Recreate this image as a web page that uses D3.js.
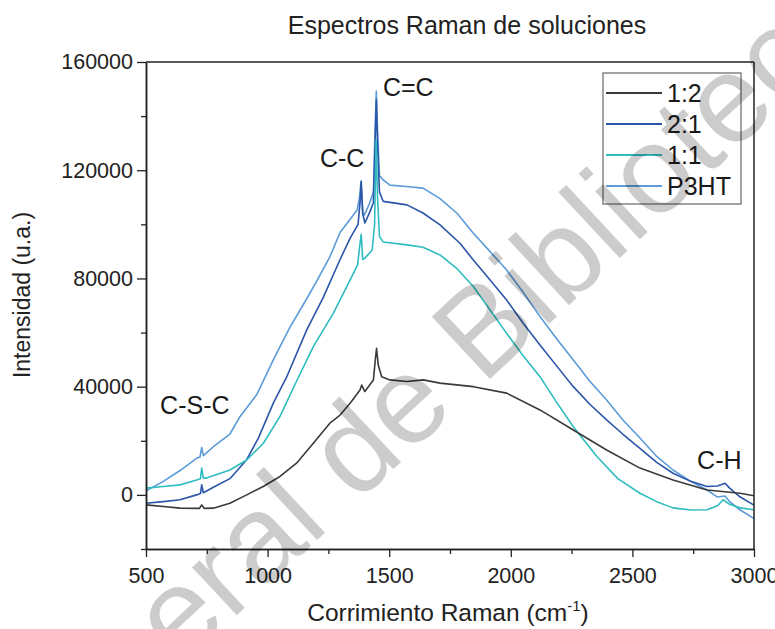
<!DOCTYPE html>
<html>
<head>
<meta charset="utf-8">
<script src="https://cdn.jsdelivr.net/npm/d3@7"></script>
<style>
  html, body { margin: 0; padding: 0; background: #fff; }
  svg { display: block; font-family: "Liberation Sans", Arial, sans-serif; }
</style>
</head>
<body>
<svg id="chart" width="775" height="629"></svg>
<script>
// ---------------- data ----------------
const title = "Espectros Raman de soluciones";
const xLabel = "Corrimiento Raman (cm";
const yLabel = "Intensidad (u.a.)";
const seriesNames = ["1:2", "2:1", "1:1", "P3HT"];
const seriesColors = ["#3a3a3a", "#2a55a8", "#2fbcc0", "#5b9bd8"];
const xTickValues = [500, 1000, 1500, 2000, 2500, 3000];
const xMinorTicks = [750, 1250, 1750, 2250, 2750];
const yTickValues = [0, 40000, 80000, 120000, 160000];
const yMinorTicks = [-20000, 20000, 60000, 100000, 140000];

const shift12 = [500,571,640,720,729,740,777,845,914,982,1051,1119,1188,1256,1298,1340,1380,1387,1400,1435,1443,1448,1455,1469,1503,1572,1640,1709,1846,1983,2120,2257,2394,2531,2667,2807,2942,3000];
const int12   = [-3700,-4300,-4900,-5000,-3700,-5000,-4900,-3100,0,3100,6800,11700,19100,26500,29500,34000,38800,40600,38200,42500,50000,54200,48000,43700,42500,41900,42500,41300,40000,37600,31400,24000,16600,9900,5500,1800,600,-300];

const shift21 = [500,571,640,708,724,729,736,777,845,914,962,1024,1078,1161,1229,1298,1340,1372,1380,1385,1391,1400,1420,1435,1442,1447,1452,1460,1475,1573,1639,1709,1791,1846,1914,1983,2050,2120,2190,2257,2325,2394,2460,2531,2600,2667,2740,2807,2850,2881,2900,2942,3000];
const int21   = [-3100,-2500,-1800,0,500,3700,800,2800,6000,13000,21000,34000,43500,61000,73000,87000,95000,100000,108000,116000,104000,100500,104500,108000,130000,146000,130000,112000,108500,107200,104200,99800,93000,86800,79500,72000,63500,55400,47500,40000,33500,27700,22500,17200,12000,8000,5000,3100,3300,4300,2500,-700,-3800];

const shift11 = [500,571,640,708,724,729,736,749,845,914,982,1051,1119,1188,1270,1339,1370,1380,1385,1391,1400,1430,1440,1446,1452,1460,1475,1573,1639,1709,1780,1846,1914,1983,2050,2120,2190,2257,2354,2440,2531,2600,2667,2740,2807,2850,2873,2900,2942,3000];
const int11   = [2500,3100,3700,5500,6000,9900,6200,6200,9200,12900,19000,29000,42000,54800,67100,79400,85000,93000,96300,87000,87500,90500,100000,131200,110000,95500,93500,92400,91500,88700,83500,77000,68400,59700,51500,43700,34000,25200,14200,6000,600,-2500,-4800,-5600,-5500,-4000,-1800,-3500,-4800,-5500];

const shiftP3 = [500,571,640,708,722,729,736,777,845,887,955,1024,1092,1161,1202,1256,1298,1340,1368,1378,1384,1392,1398,1420,1435,1442,1447,1452,1460,1475,1503,1570,1639,1709,1780,1846,1914,1983,2050,2120,2190,2257,2325,2394,2460,2531,2600,2667,2740,2807,2850,2881,2900,2942,3000];
const intP3   = [1500,5000,9000,13500,14000,17500,14500,17800,22500,29000,37000,50000,62000,72500,79000,88000,97000,102000,105300,110000,115600,104000,103500,107900,112000,135000,149300,135000,118000,116400,114500,114000,113400,109500,104000,96700,90000,83100,75000,65900,57500,49900,42000,35100,27800,21000,14200,9200,5000,1800,-800,-400,-2500,-5500,-8800];

const annotLabels = ["C=C", "C-C", "C-S-C", "C-H"];
const annotX = [1474, 1215, 558, 2766];
const annotY = [147400, 121200, 29900, 9600];

const watermark1 = "Dirección Gen";
const watermark2 = "eral de Bibliotecas";

// ---------------- layout ----------------
const W = 775, H = 629;
const m = { left: 146, right: 21, top: 62, bottom: 80 };
const svg = d3.select("#chart");

const x = d3.scaleLinear().domain([500, 3000]).range([m.left, W - m.right]);
const y = d3.scaleLinear().domain([-20000, 160000]).range([H - m.bottom, m.top]);

const series = [
  { name: seriesNames[0], color: seriesColors[0], xs: shift12, ys: int12 },
  { name: seriesNames[1], color: seriesColors[1], xs: shift21, ys: int21 },
  { name: seriesNames[2], color: seriesColors[2], xs: shift11, ys: int11 },
  { name: seriesNames[3], color: seriesColors[3], xs: shiftP3, ys: intP3 }
];

const g = svg.append("g");

// lines (draw order: P3HT, 2:1, 1:1, 1:2)
const line = d3.line().x(d => x(d[0])).y(d => y(d[1]));
[3, 1, 2, 0].forEach(i => {
  const s = series[i];
  g.append("path")
    .datum(s.xs.map((v, k) => [v, s.ys[k]]))
    .attr("fill", "none")
    .attr("stroke", s.color)
    .attr("stroke-width", 1.6)
    .attr("stroke-linejoin", "round")
    .attr("d", line);
});

// frame
const frameColor = "#222";
svg.append("line").attr("x1", x(500)).attr("x2", x(3000)).attr("y1", y(160000)).attr("y2", y(160000))
  .attr("stroke", frameColor).attr("stroke-width", 1.5);
svg.append("line").attr("x1", x(3000)).attr("x2", x(3000)).attr("y1", y(160000)).attr("y2", y(-20000))
  .attr("stroke", frameColor).attr("stroke-width", 1.5);

// axes
function styleAxis(sel) {
  sel.selectAll("path").attr("stroke", frameColor).attr("stroke-width", 1.5);
  sel.selectAll("line").attr("stroke", frameColor).attr("stroke-width", 1.3);
  sel.selectAll("text").attr("fill", "#222").attr("font-size", 21.5)
     .attr("font-family", "Liberation Sans, Arial, sans-serif");
}
const xAxisY = y(-20000);
const gxMinor = svg.append("g").attr("transform", `translate(0,${xAxisY})`)
  .call(d3.axisBottom(x).tickValues(xMinorTicks).tickSize(5).tickSizeOuter(0).tickFormat(""));
styleAxis(gxMinor);
const gx = svg.append("g").attr("transform", `translate(0,${xAxisY})`)
  .call(d3.axisBottom(x).tickValues(xTickValues).tickSize(8).tickSizeOuter(0).tickPadding(11).tickFormat(d3.format("d")));
styleAxis(gx);

const gyMinor = svg.append("g").attr("transform", `translate(${m.left},0)`)
  .call(d3.axisLeft(y).tickValues(yMinorTicks).tickSize(5).tickSizeOuter(0).tickFormat(""));
styleAxis(gyMinor);
const gy = svg.append("g").attr("transform", `translate(${m.left},0)`)
  .call(d3.axisLeft(y).tickValues(yTickValues).tickSize(9).tickSizeOuter(0).tickPadding(4).tickFormat(d3.format("d")));
styleAxis(gy);

// title and axis labels
svg.append("text").attr("x", 467).attr("y", 34).attr("text-anchor", "middle")
  .attr("font-size", 25).attr("fill", "#222").text(title);

const xl = svg.append("text").attr("x", 448).attr("y", 621).attr("text-anchor", "middle")
  .attr("font-size", 24.5).attr("fill", "#222");
xl.append("tspan").text(xLabel);
xl.append("tspan").attr("font-size", 15).attr("dy", -10).text("-1");
xl.append("tspan").attr("dy", 10).text(")");

svg.append("text").attr("transform", "translate(30,295) rotate(-90)").attr("text-anchor", "middle")
  .attr("font-size", 23).attr("fill", "#222").text(yLabel);

// annotations
annotLabels.forEach((lab, i) => {
  svg.append("text").attr("x", x(annotX[i])).attr("y", y(annotY[i]))
    .attr("font-size", 25).attr("fill", "#1a1a1a").text(lab);
});

// legend
const lg = svg.append("g").attr("transform", "translate(603,73)");
lg.append("rect").attr("width", 138).attr("height", 131)
  .attr("fill", "#fff").attr("stroke", "#666").attr("stroke-width", 1.2);
series.forEach((s, i) => {
  const cy = 20 + i * 31;
  lg.append("line").attr("x1", 3).attr("x2", 59).attr("y1", cy).attr("y2", cy)
    .attr("stroke", s.color).attr("stroke-width", 2);
  lg.append("text").attr("x", 64).attr("y", cy + 9).attr("font-size", 25)
    .attr("fill", "#1a1a1a").text(s.name);
});

// watermark (semi-transparent overlay)
const wm = svg.append("text")
  .attr("font-size", 124)
  .attr("fill", "#000")
  .attr("fill-opacity", 0.2)
  .attr("transform", "translate(180,668) rotate(-43)");
const t1 = wm.append("tspan").text(watermark1);
wm.append("tspan").text(watermark2);
const len1 = t1.node().getComputedTextLength();
wm.attr("x", -len1);
</script>
</body>
</html>
